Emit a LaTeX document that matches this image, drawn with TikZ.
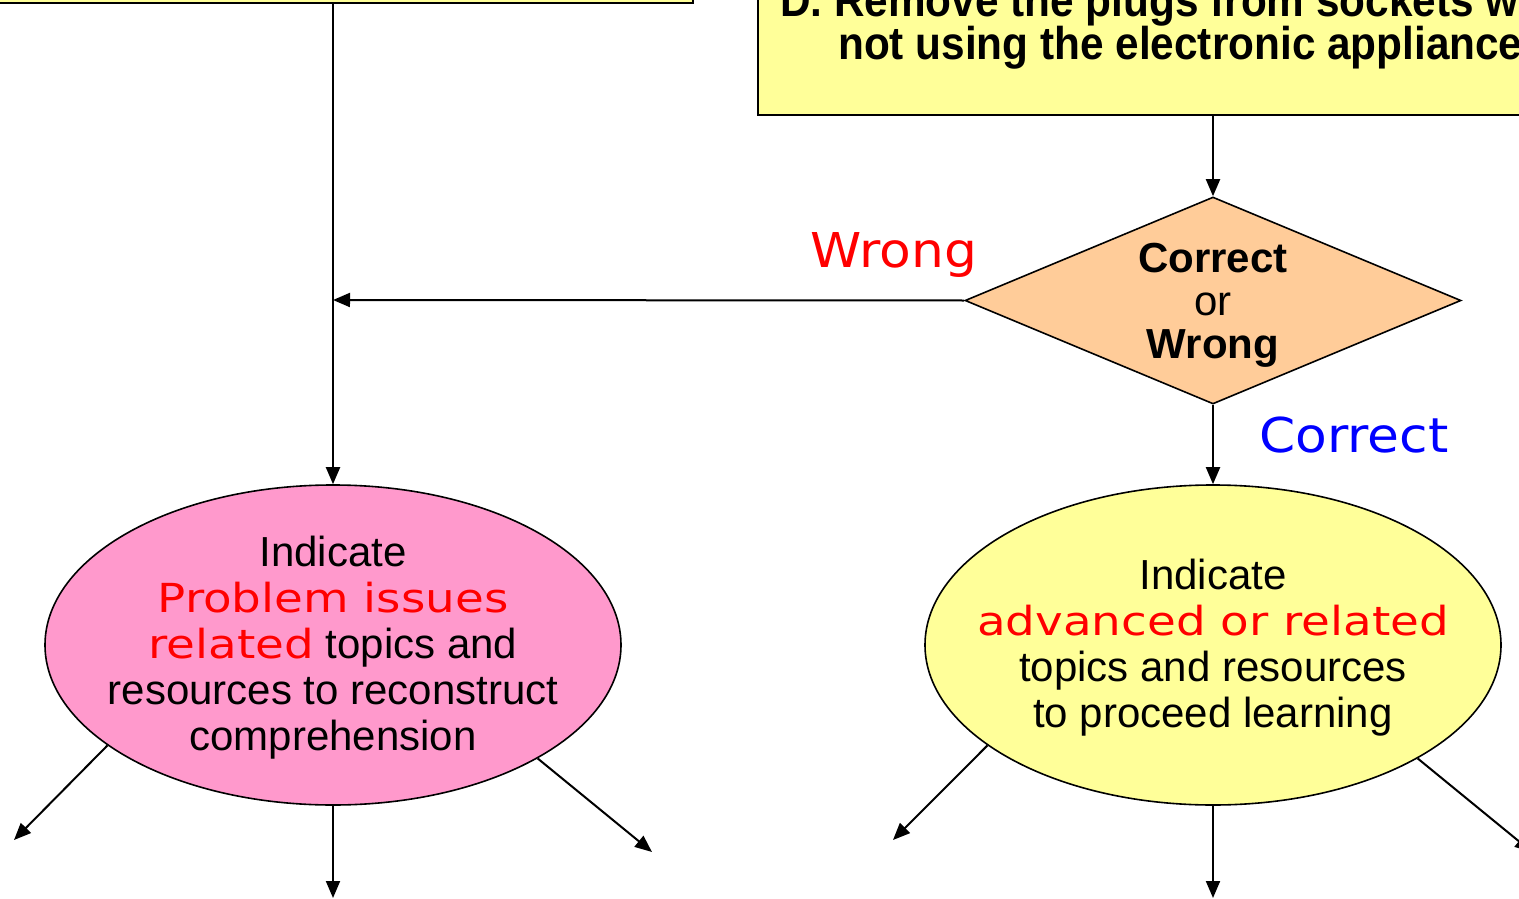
\documentclass[tikz,border=0pt]{standalone}
\usepackage{fontspec}
\setmainfont{Liberation Sans}
\newfontfamily\lblfont[FakeStretch=1.08]{DejaVu Sans}
\newfontfamily\redfont[FakeStretch=1.17]{DejaVu Sans}
\newfontfamily\boxfont[FakeStretch=0.92]{Liberation Sans}
\usetikzlibrary{shapes.geometric,arrows.meta}
\definecolor{boxyellow}{HTML}{FFFF99}
\definecolor{pinkfill}{HTML}{FF99CC}
\definecolor{peach}{HTML}{FFCC99}
\definecolor{wrongred}{HTML}{FF0000}
\definecolor{rightblue}{HTML}{0000FF}
\newcommand{\redtx}[1]{{\redfont\fontsize{40}{46}\selectfont\color{wrongred}#1}}
\tikzset{
  boxnode/.style={draw=black, line width=2pt, fill=boxyellow, inner sep=0pt},
  ellnode/.style={ellipse, draw=black, line width=1.6pt, inner sep=0pt, minimum width=576pt, minimum height=320pt},
  decnode/.style={diamond, draw=black, line width=1.6pt, fill=peach, inner sep=0pt, minimum width=496pt, minimum height=207pt},
  bodytext/.style={align=center, inner sep=0pt, font=\fontsize{42}{46}\selectfont},
  boxtext/.style={anchor=base west, inner sep=0pt, font=\boxfont\bfseries\fontsize{46}{43}\selectfont},
  arr/.style={line width=2pt, -{Triangle[length=17pt,width=14pt]}},
  lbl/.style={inner sep=0pt, font=\lblfont\fontsize{48}{52}\selectfont}
}
\begin{document}
\begin{tikzpicture}[x=1pt,y=-1pt]
\useasboundingbox (0,0) rectangle (1519,899);
\clip (0,0) rectangle (1519,899);
% top boxes
\node[boxnode, minimum width=720pt, minimum height=120pt, anchor=south west] (tl) at (-28,4) {};
\node[boxnode, minimum width=860pt, minimum height=220pt, anchor=south west] (tr) at (757,116) {};
\node[boxtext] (t1) at (780,17) {D. Remove the plugs from sockets w};
\node[boxtext] (t2) at (838,60) {not using the electronic appliance};
% decision
\node[decnode] (D) at (1213,300.5) {};
\node[align=center, inner sep=0pt, font=\bfseries\fontsize{42}{43}\selectfont] (Dt) at (1213,305)
  {Correct\\{\mdseries or}\\Wrong};
% ellipses
\node[ellnode, fill=pinkfill] (L) at (333,645) {};
\node[ellnode, fill=boxyellow] (R) at (1213,645) {};
\node[bodytext] (Lt) at (333,648)
  {Indicate\\ \redtx{Problem issues}\\ \redtx{related} topics and\\ resources to reconstruct\\ comprehension};
\node[bodytext] (Rt) at (1213,648)
  {Indicate\\ \redtx{advanced or related}\\ topics and resources\\ to proceed learning};
% labels
\node[lbl, text=wrongred] (wl) at (894,255) {Wrong};
\node[lbl, text=rightblue] (cl) at (1354,435) {Correct};
% connectors
\coordinate (j) at (333,300);
\draw[arr] (tl.south -| L.north) -- (L.north);
\draw[arr] (tr.south -| D.north) -- (D.north);
\draw[arr] (D.west) -- (j);
\draw[arr] (D.south) -- (R.north);
\coordinate (la) at (14,840);
\coordinate (lb) at (333,898);
\coordinate (lc) at (652,852);
\coordinate (ra) at (893,840);
\coordinate (rb) at (1213,898);
\coordinate (rc) at (1532,852);
\draw[arr] (L.204) -- (la);
\draw[arr] (L.south) -- (lb);
\draw[arr] (L.331.6) -- (lc);
\draw[arr] (R.204) -- (ra);
\draw[arr] (R.south) -- (rb);
\draw[arr] (R.331.6) -- (rc);
\end{tikzpicture}
\end{document}
